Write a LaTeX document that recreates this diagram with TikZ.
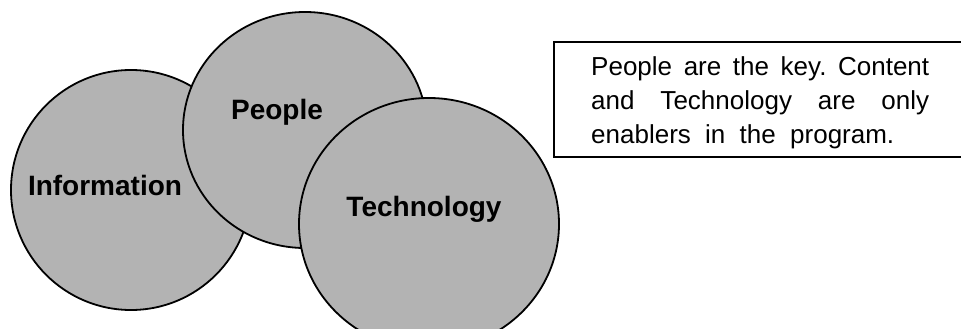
\documentclass[tikz,border=0pt]{standalone}
\usepackage{fontspec}
\setmainfont{Liberation Sans}
\usetikzlibrary{shapes.geometric}
\definecolor{discgray}{RGB}{179,179,179}
\newcommand\notefont{\fontsize{26}{34.5}\selectfont\frenchspacing\spaceskip=0.55em plus 1em minus 0.2em\relax}
\begin{document}
\begin{tikzpicture}[x=1pt, y=-1pt]
    \useasboundingbox (0,0) rectangle (961,329);
    \tikzstyle{disc} = [ellipse, draw=black, line width=1.8pt, fill=discgray, inner sep=0pt]
    \tikzstyle{label} = [anchor=base, font=\fontsize{28}{30}\selectfont\bfseries]
    \node (info) [disc, minimum width=240pt, minimum height=240pt] at (131,190) {};
    \node (people) [disc, minimum width=244pt, minimum height=236pt] at (305,130) {};
    \node (tech) [disc, minimum width=260pt, minimum height=252pt] at (429,224) {};
    \node (infolabel) [label] at (105,195) {Information};
    \node (peoplelabel) [label] at (277,119) {People};
    \node (techlabel) [label] at (424,216) {Technology};
    \tikzstyle{notebox} = [rectangle, draw=black, line width=1.6pt, minimum width=430pt, minimum height=115pt, anchor=north west]
    \node (box) [notebox] at (553,41) {};
    \node (note) [anchor=base west, inner sep=0pt, text width=338pt, align=justify, font=\notefont] at (591,75) {People are the key. Content\linebreak and Technology are only\linebreak enablers in the program.};
\end{tikzpicture}
\end{document}
